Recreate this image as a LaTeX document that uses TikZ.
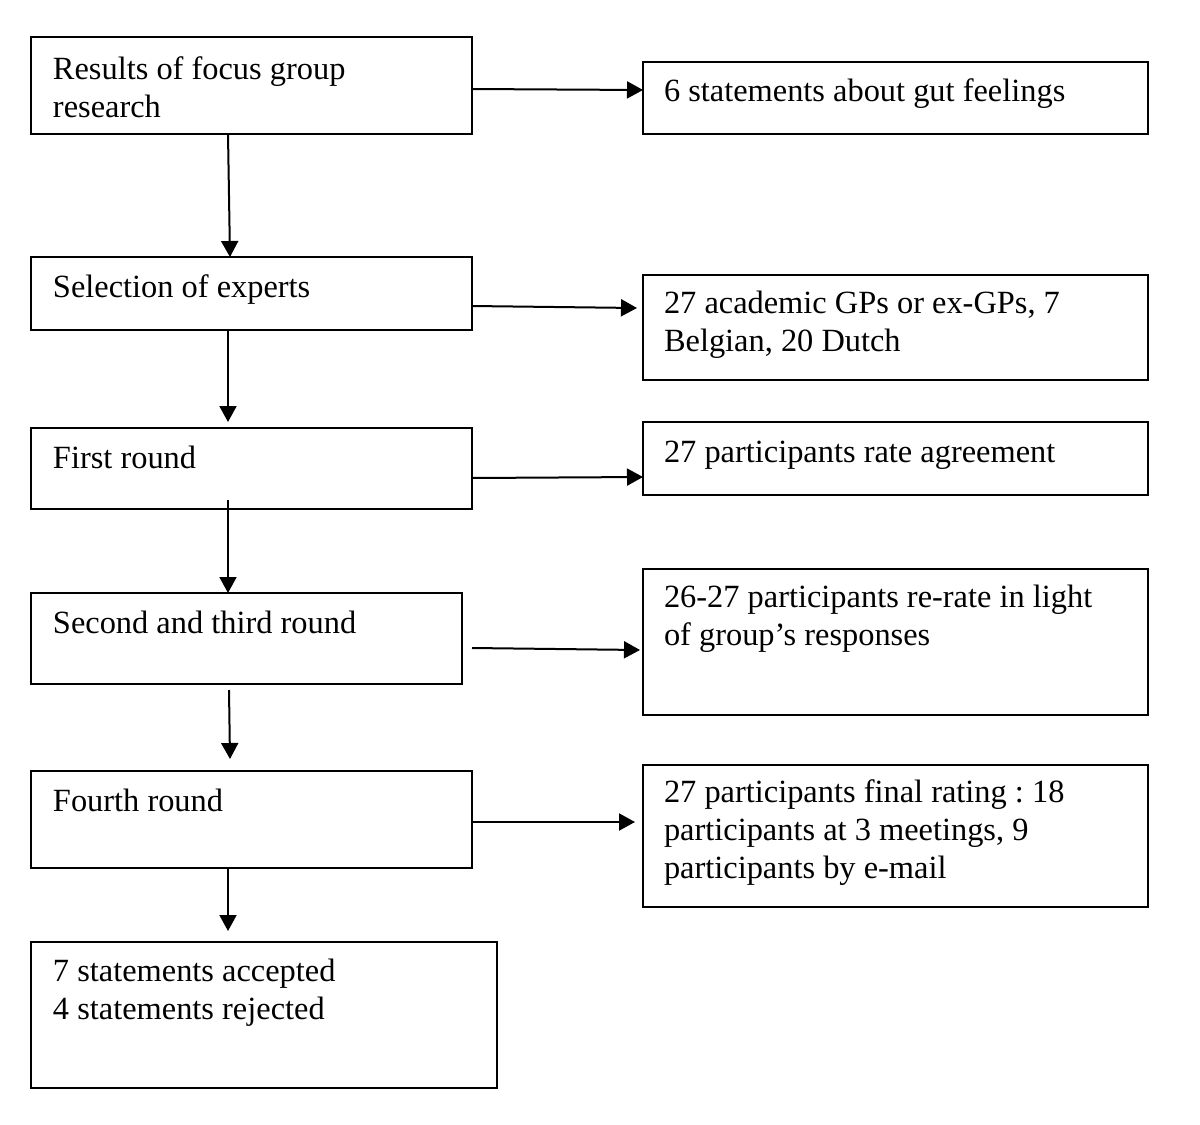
\documentclass[tikz,border=0pt]{standalone}
\usepackage{fontspec}
\setmainfont{Liberation Serif}
\usetikzlibrary{arrows.meta,fit,calc}
\newcommand{\boxfont}{\fontsize{16.2}{19}\selectfont}
\newcommand{\tightsp}{\spaceskip=0.25em plus 0.1em minus 0.05em\xspaceskip=0.25em\relax}
\begin{document}
\begin{tikzpicture}[x=0.5pt,y=-0.5pt,
  box/.style={draw, line width=1.2pt, inner sep=0pt, outer sep=0pt, rectangle},
  txt/.style={anchor=base west, inner sep=0pt, outer sep=0pt, text width=245pt, align=left, font=\boxfont, execute at begin node=\tightsp},
  arr/.style={line width=1pt, -{Triangle[length=8pt,width=8.5pt]}}]
\useasboundingbox[fill=white] (0,0) rectangle (1200,1125);
% boxes
\node[box, fit={(31,37) (472,134)}] (L1) {};
\node[box, fit={(643,62) (1148,134)}] (R1) {};
\node[box, fit={(31,257) (472,330)}] (L2) {};
\node[box, fit={(643,275) (1148,380)}] (R2) {};
\node[box, fit={(31,428) (472,509)}] (L3) {};
\node[box, fit={(643,422) (1148,495)}] (R3) {};
\node[box, fit={(31,593) (462,684)}] (L4) {};
\node[box, fit={(643,569) (1148,715)}] (R4) {};
\node[box, fit={(31,771) (472,868)}] (L5) {};
\node[box, fit={(643,765) (1148,907)}] (R5) {};
\node[box, fit={(31,942) (497,1088)}] (L6) {};
% texts
\node[txt] (L1t) at (53,79) {Results of focus group\\research};
\node[txt] (R1t) at (664,101) {6 statements about gut feelings};
\node[txt] (L2t) at (53,297) {Selection of experts};
\node[txt] (R2t) at (664,313) {27 academic GPs or ex-GPs, 7\\Belgian, 20 Dutch};
\node[txt] (L3t) at (53,468) {First round};
\node[txt] (R3t) at (664,462) {27 participants rate agreement};
\node[txt] (L4t) at (53,633) {Second and third round};
\node[txt] (R4t) at (664,607) {26-27 participants re-rate in light\\of group’s responses};
\node[txt] (L5t) at (53,811) {Fourth round};
\node[txt] (R5t) at (664,802) {27 participants final rating : 18\\participants at 3 meetings, 9\\participants by e-mail};
\node[txt] (L6t) at (53,981) {7 statements accepted\\4 statements rejected};
% arrows
\draw[arr] ($(L1.north east)+(0,52)$) -- ($(R1.north west)+(0,28)$);
\draw[arr] ($(L1.south west)+(197,0)$) -- ($(L2.north west)+(199,0)$);
\draw[arr] ($(L2.north east)+(0,49)$) -- ($(R2.north west)+(-6,33)$);
\draw[arr] ($(L2.south west)+(197,0)$) -- ($(L3.north west)+(197,-6)$);
\draw[arr] ($(L3.north east)+(0,50)$) -- ($(R3.north west)+(0,55)$);
\draw[arr] ($(L3.south west)+(197,-9)$) -- ($(L4.north west)+(197,0)$);
\draw[arr] ($(L4.north east)+(10,55)$) -- ($(R4.north west)+(-3,81)$);
\draw[arr] ($(L4.south west)+(198,6)$) -- ($(L5.north west)+(199,-12)$);
\draw[arr] ($(L5.north east)+(0,51)$) -- ($(R5.north west)+(-8,57)$);
\draw[arr] ($(L5.south west)+(197,0)$) -- ($(L6.north west)+(197,-11)$);
\end{tikzpicture}
\end{document}
